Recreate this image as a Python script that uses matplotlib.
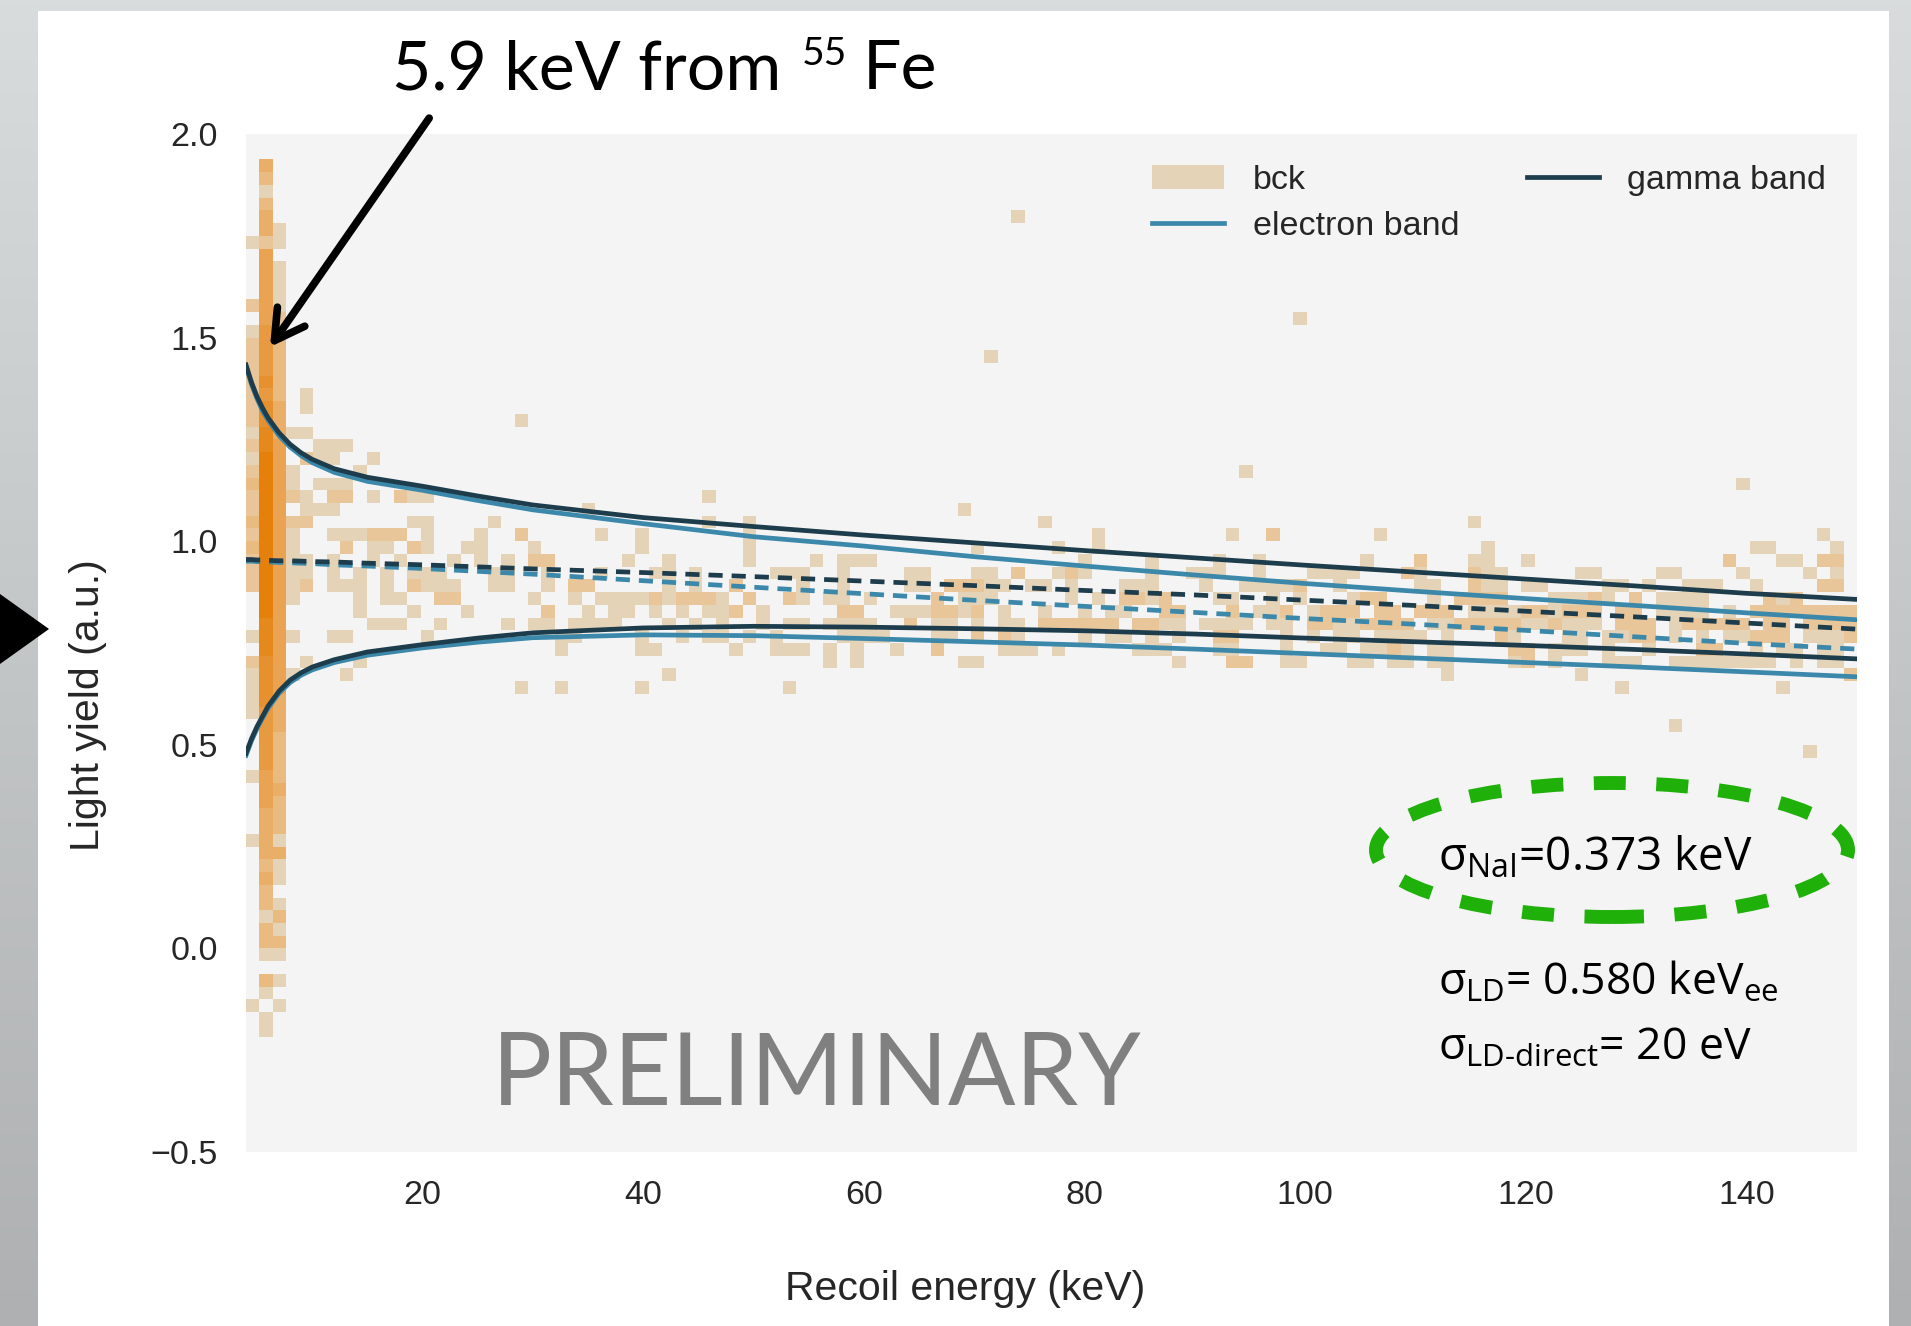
import numpy as np
import matplotlib
matplotlib.use('Agg')
import matplotlib.pyplot as plt
from matplotlib.colors import LinearSegmentedColormap
from matplotlib.patches import Ellipse, Patch, Polygon, Rectangle
from matplotlib.lines import Line2D

plt.rcParams['font.family'] = ['Liberation Sans', 'DejaVu Sans']
plt.rcParams['mathtext.fontset'] = 'custom'
plt.rcParams['mathtext.rm'] = 'Open Sans'
plt.rcParams['mathtext.it'] = 'Open Sans:italic'

# band curves (recoil energy keV -> light yield)
energy = [4.0, 4.5, 5.0, 5.5, 6.0, 7.0, 8.0, 9.0, 10.0, 12.0, 15.0, 20.0, 25.0, 30.0,
          40.0, 50.0, 60.0, 70.0, 80.0, 90.0, 100.0, 110.0, 120.0, 130.0, 140.0, 150.0]
gamma_upper = [1.433, 1.390, 1.355, 1.327, 1.303, 1.266, 1.238, 1.217, 1.201, 1.178, 1.157, 1.135, 1.111,
               1.089, 1.058, 1.036, 1.015, 0.996, 0.977, 0.959, 0.941, 0.924, 0.907, 0.890, 0.872, 0.857]
gamma_mean = [0.955, 0.955, 0.954, 0.954, 0.953, 0.952, 0.952, 0.951, 0.950, 0.949, 0.946, 0.942, 0.937,
              0.932, 0.923, 0.913, 0.902, 0.891, 0.879, 0.868, 0.855, 0.842, 0.828, 0.814, 0.799, 0.784]
gamma_lower = [0.479, 0.515, 0.545, 0.570, 0.595, 0.632, 0.659, 0.677, 0.691, 0.709, 0.728, 0.746, 0.762,
               0.775, 0.787, 0.791, 0.789, 0.785, 0.780, 0.772, 0.762, 0.753, 0.744, 0.734, 0.723, 0.711]
electron_upper = [1.430, 1.385, 1.350, 1.320, 1.297, 1.259, 1.231, 1.210, 1.193, 1.169, 1.147, 1.125, 1.100,
                  1.077, 1.043, 1.011, 0.988, 0.962, 0.939, 0.917, 0.896, 0.877, 0.859, 0.842, 0.824, 0.807]
electron_mean = [0.951, 0.951, 0.950, 0.950, 0.949, 0.948, 0.947, 0.946, 0.945, 0.942, 0.939, 0.933, 0.926,
                 0.919, 0.903, 0.887, 0.871, 0.855, 0.840, 0.825, 0.810, 0.796, 0.781, 0.765, 0.749, 0.735]
electron_lower = [0.474, 0.510, 0.540, 0.566, 0.590, 0.627, 0.653, 0.671, 0.684, 0.702, 0.720, 0.738, 0.752,
                  0.763, 0.770, 0.768, 0.761, 0.753, 0.745, 0.735, 0.724, 0.713, 0.702, 0.691, 0.679, 0.667]

# bck 2d histogram: 120 x-bins over 4..150 keV, 80 y-bins over -0.5..2.0
n_xbins, n_ybins = 120, 80
x_range = (4, 150)
y_range = (-0.5, 2.0)

# 5.9 keV peak columns (x-bins 0,1,2), counts level from y-bin 77 down to 9
peak_top_bin = 77
peak_col0 = "000000100002012222222121232232322200010211110000100001000000000000100"
peak_col1 = "431344255555566667677889999999999999888777766666555444434331331031011"
peak_col2 = "000001101111223333344455555555555555555555444333343331411013131010100"

# scattered band: y-bin rows, occupied x-bins, and the brighter x-bins
band_ybins = [60, 59, 58, 57, 56, 55, 54, 53, 52, 51, 50, 49, 48, 47, 46, 45, 44, 43, 42, 41, 40, 39, 38, 37, 36]
band_xbins = [
    [],
    [4],
    [4],
    [20],
    [3, 4],
    [5, 6, 7],
    [4, 5, 6, 9],
    [3, 8, 74],
    [3, 5, 6, 7, 111],
    [3, 4, 6, 7, 9, 11, 12, 13, 34],
    [4, 5, 6, 25, 53],
    [3, 4, 12, 13, 18, 34, 37, 59, 91],
    [3, 6, 7, 8, 9, 10, 11, 13, 17, 20, 26, 29, 37, 63, 73, 76, 84, 117],
    [3, 7, 9, 10, 12, 13, 16, 17, 21, 29, 37, 54, 60, 63, 92, 112, 113, 118],
    [3, 4, 6, 9, 11, 15, 17, 19, 21, 22, 28, 31, 37, 42, 44, 45, 46, 62, 67, 72, 75, 83, 87, 91, 92, 95,
     110, 114, 115, 117, 118],
    [3, 4, 6, 8, 10, 12, 13, 14, 18, 19, 22, 26, 30, 31, 33, 39, 40, 41, 44, 49, 50, 54, 55, 57, 60, 61, 62,
     67, 70, 71, 72, 75, 79, 80, 81, 82, 86, 87, 91, 92, 93, 99, 100, 105, 106, 111, 116, 118],
    [3, 4, 6, 7, 8, 10, 12, 13, 14, 15, 18, 19, 22, 24, 25, 31, 33, 36, 41, 44, 49, 50, 52, 53, 54, 55, 56,
     58, 59, 61, 65, 66, 67, 71, 74, 75, 76, 77, 78, 81, 87, 88, 91, 92, 93, 95, 96, 101, 102, 104, 107, 108,
     109, 112, 117, 118],
    [3, 8, 10, 11, 14, 15, 21, 24, 26, 27, 28, 29, 30, 31, 32, 33, 34, 35, 37, 40, 41, 43, 44, 46, 51, 53, 54,
     55, 61, 63, 65, 66, 67, 68, 72, 73, 76, 78, 82, 83, 84, 88, 90, 91, 92, 93, 97, 98, 99, 100, 101, 103,
     105, 106, 107, 108, 113, 114, 115],
    [8, 12, 16, 22, 25, 27, 28, 30, 32, 34, 35, 36, 38, 44, 45, 48, 49, 50, 51, 52, 53, 54, 56, 59, 62, 64,
     65, 68, 69, 73, 75, 76, 77, 79, 80, 81, 82, 84, 85, 87, 88, 89, 91, 92, 93, 94, 95, 96, 97, 98, 99, 100,
     102, 103, 105, 106, 107, 108, 110, 112, 113, 114, 115, 116, 117, 118, 119],
    [9, 10, 11, 14, 19, 21, 22, 24, 25, 26, 27, 31, 33, 35, 38, 40, 41, 43, 44, 45, 46, 49, 51, 52, 54, 56,
     57, 59, 60, 61, 62, 63, 64, 66, 67, 68, 69, 71, 72, 73, 74, 76, 77, 79, 80, 81, 82, 83, 84, 85, 86, 88,
     89, 90, 91, 92, 93, 94, 95, 96, 97, 98, 99, 100, 102, 103, 104, 106, 107, 108, 109, 110, 111, 113, 114,
     116, 117, 118, 119],
    [3, 6, 7, 13, 23, 24, 29, 32, 34, 35, 37, 39, 44, 45, 46, 47, 51, 52, 54, 56, 57, 62, 64, 65, 67, 69, 72,
     73, 77, 79, 81, 82, 84, 85, 86, 87, 89, 93, 94, 98, 99, 101, 102, 103, 104, 106, 108, 110, 111, 112,
     113, 114, 116, 117, 118, 119],
    [23, 29, 30, 36, 39, 40, 41, 43, 45, 48, 51, 56, 57, 58, 60, 66, 67, 68, 72, 73, 77, 80, 81, 83, 84, 85,
     86, 88, 89, 94, 95, 97, 98, 99, 101, 104, 108, 109, 112, 114, 115, 117, 118],
    [4, 8, 43, 45, 53, 54, 69, 73, 74, 77, 78, 82, 83, 85, 86, 88, 89, 94, 95, 97, 101, 102, 103, 106, 107,
     108, 109, 110, 111, 112, 113, 115, 117, 118],
    [3, 7, 31, 89, 99, 119],
    [20, 23, 29, 40, 102, 114],
]
band_bright = [
    [], [], [], [], [], [], [4], [], [], [3, 6, 7, 11], [], [3, 4], [9, 10, 11, 20, 76], [7, 12],
    [21, 22, 87, 110, 117, 118],
    [57, 61, 86, 91],
    [4, 12, 24, 25, 36, 52, 53, 54, 78, 91, 117, 118],
    [14, 15, 30, 32, 33, 34, 37, 40, 51, 65, 66, 68, 83, 84, 90, 91, 92, 93, 100, 103, 113, 115],
    [22, 36, 44, 45, 51, 52, 54, 68, 69, 73, 77, 80, 81, 82, 84, 85, 87, 88, 89, 95, 96, 98, 99, 100, 102,
     103, 112, 113, 114, 115, 116, 117, 118, 119],
    [49, 59, 60, 61, 62, 63, 64, 66, 67, 79, 80, 83, 84, 85, 86, 90, 91, 92, 93, 94, 97, 102, 103, 104, 107,
     108, 109, 110, 111, 113, 114, 116, 117, 118, 119],
    [54, 56, 72, 73, 93, 103, 104, 112, 113, 114, 119],
    [51, 85, 94, 95, 108, 109],
    [73, 74, 95],
    [119],
    [],
]
outlier_bins = [(57, 73), (78, 65), (55, 62), (106, 33), (116, 31)]

gamma_color = '#1d3c4c'
electron_color = '#3c88aa'
bck_color = '#e4d3b6'

# fill the count grid
counts = np.zeros((n_xbins, n_ybins))
for i, col in enumerate([peak_col0, peak_col1, peak_col2]):
    for k, ch in enumerate(col):
        counts[i, peak_top_bin - k] = int(ch)
for j, cells, bright in zip(band_ybins, band_xbins, band_bright):
    for i in cells:
        counts[i, j] = 1
    for i in bright:
        counts[i, j] = 2
for i, j in outlier_bins:
    counts[i, j] = 1

x_edges = np.linspace(x_range[0], x_range[1], n_xbins + 1)
y_edges = np.linspace(y_range[0], y_range[1], n_ybins + 1)

W, H = 1911, 1326
fig = plt.figure(figsize=(W / 100, H / 100), dpi=100)

# slide background: grey gradient and white panel
bg = fig.add_axes([0, 0, 1, 1], zorder=-10)
grad = np.linspace(0, 1, 256).reshape(-1, 1)
bg.imshow(grad, aspect='auto', extent=[0, 1, 0, 1],
          cmap=LinearSegmentedColormap.from_list('slide', ['#d8dcdd', '#aeb0b1']))
bg.axis('off')
fig.patches.append(Rectangle((38 / W, 0), (1889 - 38) / W, 1 - 11 / H, transform=fig.transFigure,
                             facecolor='white', edgecolor='none', zorder=-5))
fig.patches.append(Polygon([(0, 1 - 594 / H), (49 / W, 1 - 629 / H), (0, 1 - 664 / H)], closed=True,
                           transform=fig.transFigure, facecolor='black', edgecolor='none', zorder=2))

ax = fig.add_axes([246 / W, 1 - 1152 / H, (1857 - 246) / W, (1152 - 134) / H])
ax.set_facecolor('#f4f4f4')

cmap = LinearSegmentedColormap.from_list('bck', [(0, bck_color), (0.125, '#e8c699'), (0.25, '#e9bb80'),
                                                 (0.5, '#e9a352'), (1.0, '#e5800a')])
ax.pcolormesh(x_edges, y_edges, np.ma.masked_equal(counts, 0).T, cmap=cmap, vmin=1, vmax=9, zorder=1)

lw = 3.4
dash = (0, (3.0, 1.9))
ax.plot(energy, electron_upper, color=electron_color, lw=lw, zorder=3)
ax.plot(energy, electron_lower, color=electron_color, lw=lw, zorder=3)
ax.plot(energy, electron_mean, color=electron_color, lw=lw, ls=dash, zorder=3)
ax.plot(energy, gamma_upper, color=gamma_color, lw=lw, zorder=4)
ax.plot(energy, gamma_lower, color=gamma_color, lw=lw, zorder=4)
ax.plot(energy, gamma_mean, color=gamma_color, lw=lw, ls=dash, zorder=4)

ax.set_xlim(*x_range)
ax.set_ylim(*y_range)
ax.set_xticks([20, 40, 60, 80, 100, 120, 140])
ax.set_yticks([-0.5, 0.0, 0.5, 1.0, 1.5, 2.0])
ax.tick_params(length=0, pad=20, labelsize=24.5, colors='#262626')
for s in ax.spines.values():
    s.set_visible(False)

handles = [Patch(facecolor=bck_color, edgecolor='none', label='bck'),
           Line2D([], [], color=electron_color, lw=lw, label='electron band'),
           Line2D([], [], color=gamma_color, lw=lw, label='gamma band')]
leg = ax.legend(handles=handles, ncol=2, loc='upper right', frameon=False, fontsize=24.5,
                handlelength=2.1, handletextpad=0.85, columnspacing=2.0, labelspacing=0.45,
                borderaxespad=0.5)
for t in leg.get_texts():
    t.set_color('#262626')

ax.annotate('', xy=(6.18, 1.477), xytext=(20.6, 2.039), xycoords='data', annotation_clip=False,
            arrowprops=dict(arrowstyle='->,head_length=0.35,head_width=0.2', lw=5.5, color='black',
                            mutation_scale=60, shrinkA=0, shrinkB=0))

# labels placed where they sit on the slide
fig.text(965 / W, 1 - 1289 / H, 'Recoil energy (keV)', ha='center', va='center', fontsize=29.5,
         color='#262626')
fig.text(88 / W, 1 - 705 / H, 'Light yield (a.u.)', rotation=90, ha='center', va='center',
         fontsize=29.5, color='#262626')

title_font = ['Lato', 'DejaVu Sans']
fig.text(392 / W, 1 - 89 / H, '5.9 keV from', fontsize=49, family=title_font, va='baseline')
fig.text(802 / W, 1 - 36 / H, '55', fontsize=28, family=title_font, va='top')
fig.text(863 / W, 1 - 89 / H, 'Fe', fontsize=49, family=title_font, va='baseline')

fig.text(492 / W, 1 - 1105 / H, 'PRELIMINARY', fontsize=72, family=title_font, color='#808080',
         va='baseline')

sigma_font = ['Open Sans', 'DejaVu Sans']
fig.text(1438 / W, 1 - 871 / H, r'σ$_{\mathrm{NaI}}$=0.373 keV', fontsize=33, family=sigma_font,
         va='baseline')
fig.text(1438 / W, 1 - 995 / H, r'σ$_{\mathrm{LD}}$= 0.580 keV$_{\mathrm{ee}}$', fontsize=32,
         family=sigma_font, va='baseline')
fig.text(1438 / W, 1 - 1060 / H, r'σ$_{\mathrm{LD}\text{-}\mathrm{direct}}$= 20 eV', fontsize=32,
         family=sigma_font, va='baseline')

fig.add_artist(Ellipse((1612 / W, 1 - 850 / H), 472 / W, 134 / H, transform=fig.transFigure, fill=False,
                       edgecolor='#20b00a', lw=10, linestyle=(0, (2.3, 2.2)), zorder=5))

fig.savefig('out.png', dpi=100)
